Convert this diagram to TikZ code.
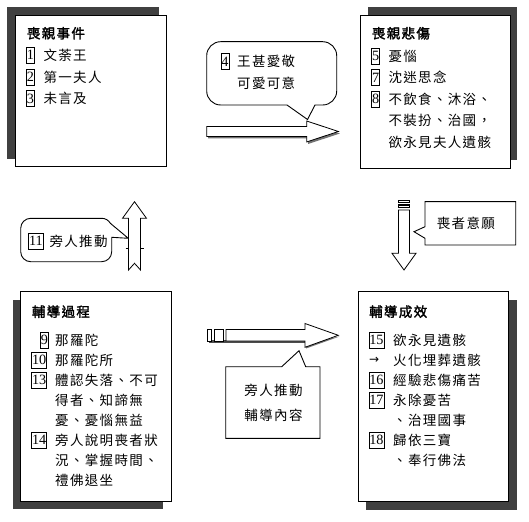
\documentclass[tikz,border=0pt]{standalone}
\usepackage{fontspec}
\newfontfamily\cjk[LetterSpace=10,AutoFakeBold=2]{Noto Sans CJK TC}
\newfontfamily\numf{Liberation Serif}
\newfontfamily\symf{DejaVu Sans}
\tikzset{
  card/.style={draw=black, line width=0.9pt, fill=white},
  cardshadow/.style={fill=black!75, draw=none},
  bubble/.style={draw=black, line width=0.9pt, fill=white},
  bigarrow/.style={draw=black, line width=0.8pt, fill=white, line join=miter},
  arrowshadow/.style={fill=black!55, draw=none},
  stripe/.style={draw=black, line width=0.8pt, fill=white},
  txt/.style={anchor=base west, yshift=-5.1pt, inner sep=0pt, font=\cjk\fontsize{13.5}{16}\selectfont},
  ttl/.style={txt, font=\cjk\bfseries\fontsize{13.5}{16}\selectfont},
  ctxt/.style={txt, anchor=base},
  numbox/.style={draw, line width=0.6pt, anchor=west, inner xsep=0.5pt, inner ysep=3.2pt,
    text height=9.4pt, text depth=0pt, font=\numf\fontsize{14.2}{16}\selectfont},
  symtxt/.style={anchor=west, inner sep=0pt, font=\symf\fontsize{12}{14}\selectfont},
}
\begin{document}
\begin{tikzpicture}[x=1pt,y=-1pt]
\useasboundingbox (0,0) rectangle (529,521);
\fill[white] (0,0) rectangle (529,521);

% ---- Box 1: top left
\fill[cardshadow] (7.3,7.3) rectangle (159.3,159.3);
\draw[card] (15,15) rectangle (166.7,166.7);
\node[ttl] (t1) at (26.7,33.3) {喪親事件};
\node[numbox] (n1) at (26,55) {1};   \node[txt] (a1) at (43.3,55) {文荼王};
\node[numbox] (n2) at (26,77.3) {2}; \node[txt] (a2) at (43.3,77.3) {第一夫人};
\node[numbox] (n3) at (26,98.6) {3}; \node[txt] (a3) at (43.3,98.6) {未言及};

% ---- Box 2: top right
\fill[cardshadow] (368.3,7.3) rectangle (516.7,160);
\draw[card] (360,15) rectangle (510,168.3);
\node[ttl] (t2) at (371.7,33.3) {喪親悲傷};
\node[numbox] (n5) at (371.2,56) {5};   \node[txt] (b1) at (388.3,56) {憂惱};
\node[numbox] (n7) at (371.2,77.6) {7}; \node[txt] (b2) at (388.3,77.6) {沈迷思念};
\node[numbox] (n8) at (371.2,99.2) {8}; \node[txt] (b3) at (388.3,99.2) {不飲食、沐浴、};
\node[txt] (b4) at (388.3,120.8) {不裝扮、治國，};
\node[txt] (b5) at (388.3,142.6) {欲永見夫人遺骸};

% ---- Box 3: bottom left
\fill[cardshadow] (12.7,300) rectangle (163.3,509.3);
\draw[card] (20.7,291.7) rectangle (171.7,501.7);
\node[ttl] (t3) at (31.7,311.7) {輔導過程};
\node[numbox] (n9) at (40,340) {9};       \node[txt] (c1) at (55,340) {那羅陀};
\node[numbox] (n10) at (31.2,360) {10};   \node[txt] (c2) at (55,360) {那羅陀所};
\node[numbox] (n13) at (31.2,380) {13};   \node[txt] (c3) at (55,380) {體認失落、不可};
\node[txt] (c4) at (55,400) {得者、知諦無};
\node[txt] (c5) at (55,420) {憂、憂惱無益};
\node[numbox] (n14) at (31.2,440) {14};   \node[txt] (c6) at (55,440) {旁人說明喪者狀};
\node[txt] (c7) at (55,460) {況、掌握時間、};
\node[txt] (c8) at (55,480) {禮佛退坐};

% ---- Box 4: bottom right
\fill[cardshadow] (366,300) rectangle (516.7,510);
\draw[card] (358.3,291.7) rectangle (508.3,501.7);
\node[ttl] (t4) at (369,311.7) {輔導成效};
\node[numbox] (n15) at (368.5,340) {15};  \node[txt] (d1) at (393,340) {欲永見遺骸};
\node[symtxt] (arr) at (369,360) {→};     \node[txt] (d2) at (393,360) {火化埋葬遺骸};
\node[numbox] (n16) at (368.5,380) {16};  \node[txt] (d3) at (393,380) {經驗悲傷痛苦};
\node[numbox] (n17) at (368.5,400) {17};  \node[txt] (d4) at (393,400) {永除憂苦};
\node[txt] (d5) at (393,420) {、治理國事};
\node[numbox] (n18) at (368.5,440) {18};  \node[txt] (d6) at (393,440) {歸依三寶};
\node[txt] (d7) at (393,460) {、奉行佛法};

% ---- Top speech bubble
\draw[bubble] (307.5,119.5) -- (287,105) -- (220.7,105)
  arc[start angle=90,end angle=180,radius=14] -- (206.7,55.7)
  arc[start angle=180,end angle=270,radius=14] -- (322.7,41.7)
  arc[start angle=270,end angle=360,radius=14] -- (336.7,91)
  arc[start angle=0,end angle=90,radius=14] -- (315,105) -- cycle;
\node[numbox] (n4) at (220.5,61.7) {4}; \node[txt] (e1) at (237,61.7) {王甚愛敬};
\node[txt] (e2) at (237,83) {可愛可意};

% ---- Top arrow (right)
\fill[arrowshadow] (208.2,128.5) -- (308.2,128.5) -- (308.2,123) -- (339.8,133.5) -- (308.2,144) -- (308.2,138.5) -- (208.2,138.5) -- cycle;
\draw[bigarrow] (206.7,126.5) -- (306.7,126.5) -- (306.7,121) -- (338.3,131.5) -- (306.7,142) -- (306.7,136.5) -- (206.7,136.5) -- cycle;

% ---- Left bubble
\draw[bubble] (30.7,218.3) -- (101.7,218.3)
  arc[start angle=270,end angle=330,radius=10] -- (128.3,238.3) -- (111.7,237.3) -- (111.7,251.7)
  arc[start angle=0,end angle=90,radius=10] -- (30.7,261.7)
  arc[start angle=90,end angle=180,radius=10] -- (20.7,228.3)
  arc[start angle=180,end angle=270,radius=10] -- cycle;
\node[numbox] (n11) at (28.3,241) {11}; \node[txt] (f1) at (49.3,241) {旁人推動};

% ---- Up arrow
\draw[bigarrow] (134.5,201.7) -- (146.5,218.3) -- (140.5,218.3) -- (140.5,270) -- (134.5,263.3)
  -- (128.5,270) -- (128.5,218.3) -- (122.5,218.3) -- cycle;
\draw[line width=0.6pt] (125.5,248.3) -- (128.5,248.3) (140.5,248.3) -- (144,248.3);

% ---- Down arrow (right)
\draw[stripe, line width=0.7pt] (398.5,200) rectangle (409.5,202.3);
\draw[stripe, line width=1.4pt] (398.5,205) rectangle (409.5,207.7);
\draw[bigarrow] (398.5,210) -- (409.5,210) -- (409.5,253.3) -- (416,253.3) -- (404,270)
  -- (392,253.3) -- (398.5,253.3) -- cycle;

% ---- Right callout
\draw[bubble] (425,201.7) -- (515.7,201.7) -- (515.7,245) -- (425,245) -- (425,238.3)
  -- (414,231.7) -- (425,226.7) -- cycle;
\node[txt] (g1) at (436.7,223.3) {喪者意願};

% ---- Bottom arrow
\fill[black!70] (209,340) rectangle (306,343.2);
\fill[arrowshadow] (306,343) -- (339.5,336.5) -- (306,348.5) -- cycle;
\draw[stripe] (207.3,329.5) rectangle (211.7,341);
\draw[stripe] (214,329.5) rectangle (223,341);
\draw[bigarrow] (226,329.5) -- (305,329.5) -- (305,323.5) -- (338.3,335.3) -- (305,347.3)
  -- (305,341) -- (226,341) -- cycle;

% ---- Bottom callout
\draw[bubble] (225.7,366.7) -- (281.7,366.7) -- (299,350.7) -- (305.7,366.7) -- (320,366.7)
  -- (320,438.3) -- (225.7,438.3) -- cycle;
\node[ctxt] (h1) at (273.5,390) {旁人推動};
\node[ctxt] (h2) at (273.5,415) {輔導內容};
\end{tikzpicture}
\end{document}
